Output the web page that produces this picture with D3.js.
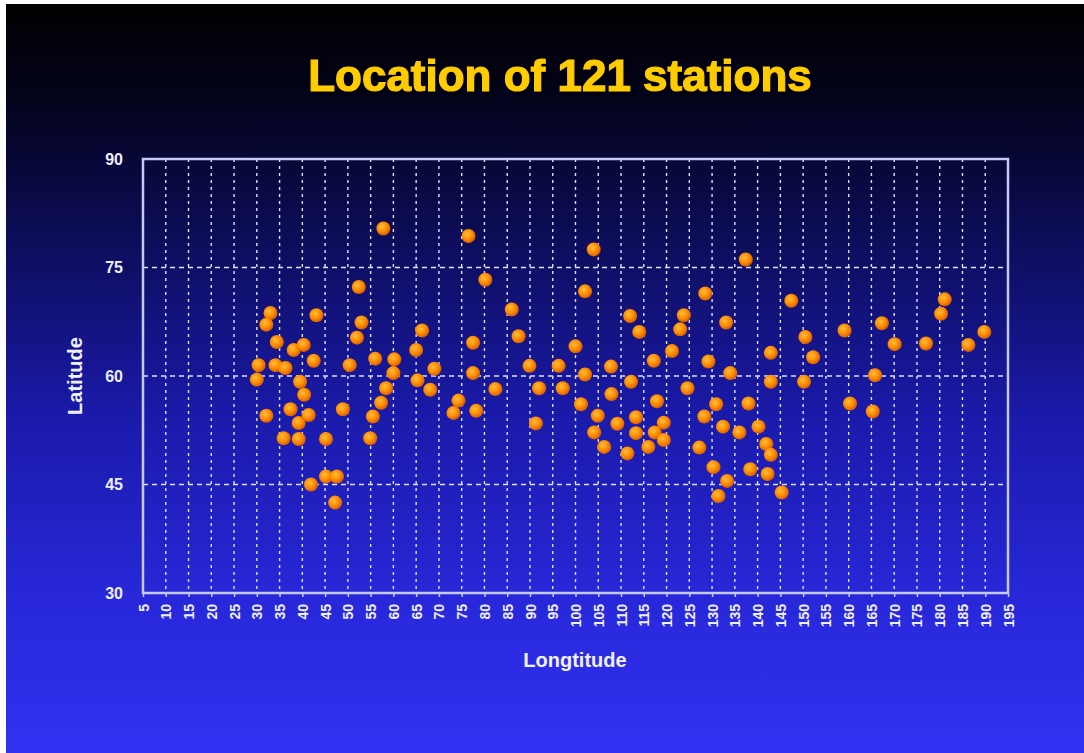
<!DOCTYPE html>
<html>
<head>
<meta charset="utf-8">
<script src="https://cdn.jsdelivr.net/npm/d3@7"></script>
<style>
body { margin: 0; background: #ffffff; }
svg { display: block; font-family: "Liberation Sans", Arial, sans-serif; }
</style>
</head>
<body>
<div id="chart"></div>
<script>
// station positions (longitude, latitude)
const station_lon = [
    57.8, 52.4, 33.0, 32.1, 43.1, 53.0, 52.0, 34.4, 38.1, 40.3,
    42.5, 30.4, 34.1, 36.3, 50.4, 56.0, 60.2, 60.0, 30.0, 39.5,
    40.4, 32.1, 37.4, 41.4, 39.2, 35.9, 39.2, 45.2, 48.9, 55.5,
    54.9, 58.4, 57.3, 41.9, 45.2, 47.6, 47.2,
    76.5, 104.0, 80.2, 102.1, 86.0, 112.0, 123.8, 66.3, 114.0, 123.0,
    87.5, 77.5, 100.0, 65.0, 121.2, 117.2, 69.0, 89.9, 96.3, 107.8,
    77.5, 102.1, 65.3, 68.1, 74.3, 73.2, 78.2, 82.4, 92.0, 97.2,
    91.3, 112.2, 107.9, 101.2, 117.9, 104.9, 109.2, 113.3, 119.4, 104.1,
    113.3, 117.4, 119.4, 106.3, 116.0, 111.4, 124.6,
    137.4, 128.5, 147.4, 181.1, 180.3, 133.1, 167.3, 159.1, 189.8, 150.5,
    170.1, 177.0, 186.3, 142.9, 152.2, 129.2, 134.0, 142.9, 150.2, 165.8,
    160.3, 165.3, 130.9, 138.0, 128.3, 132.4, 136.0, 140.2, 127.2, 141.9,
    142.9, 130.3, 138.4, 142.2, 133.3, 131.4, 145.3
];
const station_lat = [
    80.4, 72.3, 68.7, 67.1, 68.4, 67.4, 65.3, 64.7, 63.6, 64.3,
    62.1, 61.5, 61.5, 61.1, 61.5, 62.4, 62.3, 60.4, 59.5, 59.2,
    57.4, 54.5, 55.4, 54.6, 53.5, 51.4, 51.3, 51.3, 55.4, 54.4,
    51.4, 58.3, 56.3, 45.0, 46.1, 46.1, 42.5,
    79.35, 77.5, 73.3, 71.7, 69.2, 68.3, 68.4, 66.3, 66.1, 66.45,
    65.5, 64.6, 64.1, 63.6, 63.45, 62.1, 61.0, 61.4, 61.4, 61.3,
    60.4, 60.2, 59.4, 58.1, 56.6, 54.9, 55.2, 58.2, 58.3, 58.3,
    53.45, 59.2, 57.5, 56.1, 56.5, 54.5, 53.4, 54.3, 53.55, 52.2,
    52.1, 52.2, 51.15, 50.2, 50.2, 49.3, 58.3,
    76.1, 71.4, 70.4, 70.6, 68.6, 67.4, 67.3, 66.3, 66.1, 65.4,
    64.4, 64.5, 64.3, 63.2, 62.6, 62.0, 60.4, 59.2, 59.2, 60.1,
    56.2, 55.1, 56.1, 56.2, 54.4, 53.0, 52.2, 53.0, 50.1, 50.6,
    49.1, 47.4, 47.1, 46.45, 45.5, 43.4, 43.9
];

const lon_ticks = [5, 10, 15, 20, 25, 30, 35, 40, 45, 50, 55, 60, 65, 70, 75, 80, 85, 90, 95,
    100, 105, 110, 115, 120, 125, 130, 135, 140, 145, 150, 155, 160, 165, 170, 175, 180, 185, 190, 195];
const lat_ticks = [30, 45, 60, 75, 90];

const title_text = 'Location of 121 stations';
const x_label = 'Longtitude';
const y_label = 'Latitude';

const W = 1084, H = 753;
var margin = {top: 159, left: 143, right: 76, bottom: 160},
    width = W - margin.left - margin.right,
    height = H - margin.top - margin.bottom;

const svg = d3.select('#chart')
    .append('svg')
    .attr('width', W)
    .attr('height', H);

const defs = svg.append('defs');

// slide background, dark at the top going to bright blue
const bg = defs.append('linearGradient')
    .attr('id', 'bg-grad')
    .attr('x1', 0).attr('y1', 0).attr('x2', 0).attr('y2', 1);
[[0, '#000000'], [0.12, '#03031a'], [0.3, '#0c0c55'], [0.55, '#1a1aaa'], [0.8, '#2828da'], [1, '#3131f2']]
    .forEach(s => bg.append('stop').attr('offset', s[0]).attr('stop-color', s[1]));

const dot = defs.append('radialGradient')
    .attr('id', 'dot-grad')
    .attr('cx', '40%').attr('cy', '38%').attr('r', '65%');
dot.append('stop').attr('offset', 0).attr('stop-color', '#ffc040');
dot.append('stop').attr('offset', 0.55).attr('stop-color', '#ff8c00');
dot.append('stop').attr('offset', 1).attr('stop-color', '#d45a00');

svg.append('rect')
    .attr('x', 6).attr('y', 4)
    .attr('width', W - 6).attr('height', H - 4)
    .style('fill', 'url(#bg-grad)');

svg.append('text')
    .text(title_text)
    .attr('x', 560)
    .attr('y', 91)
    .attr('text-anchor', 'middle')
    .style('font-size', '44px')
    .style('font-weight', 'bold')
    .style('fill', '#ffcc00')
    .style('stroke', '#ffcc00')
    .style('stroke-width', 1.2)
    .style('filter', 'drop-shadow(2px 2px 1px rgba(0,0,0,0.9))');

const g = svg.append('g')
    .attr('transform', 'translate(' + margin.left + ',' + margin.top + ')');

var x = d3.scaleLinear()
    .domain([5, 195])
    .range([0, width]);
var y = d3.scaleLinear()
    .domain([30, 90])
    .range([height, 0]);

// dashed grid
g.append('g')
    .selectAll('line')
    .data(lon_ticks.slice(1, -1))
    .enter()
    .append('line')
    .attr('x1', d => x(d)).attr('x2', d => x(d))
    .attr('y1', 0).attr('y2', height)
    .attr('stroke', '#e0e0ff')
    .attr('stroke-width', 1.4)
    .attr('stroke-dasharray', '3,4');
g.append('g')
    .selectAll('line')
    .data(lat_ticks.slice(1, -1))
    .enter()
    .append('line')
    .attr('x1', 0).attr('x2', width)
    .attr('y1', d => y(d)).attr('y2', d => y(d))
    .attr('stroke', '#e0e0ff')
    .attr('stroke-width', 1.4)
    .attr('stroke-dasharray', '5,4');

// frame
g.append('rect')
    .attr('x', 0).attr('y', 0)
    .attr('width', width).attr('height', height)
    .attr('fill', 'none')
    .attr('stroke', '#c8c8f4')
    .attr('stroke-width', 2.5);

const x_axis = g.append('g')
    .attr('transform', 'translate(0,' + height + ')')
    .call(d3.axisBottom(x).tickValues(lon_ticks).tickSize(4).tickSizeOuter(0));
x_axis.select('.domain').remove();
x_axis.selectAll('line').attr('stroke', '#c8c8f4').attr('stroke-width', 1.5);
x_axis.selectAll('text')
    .attr('transform', 'rotate(-90)')
    .attr('text-anchor', 'end')
    .attr('x', -11)
    .attr('y', 0)
    .attr('dy', '0.36em')
    .style('fill', '#eeeeff')
    .style('font-size', '14px')
    .style('font-weight', 'bold')
    .style('font-family', '"Liberation Sans", Arial, sans-serif');

const y_axis = g.append('g')
    .call(d3.axisLeft(y).tickValues(lat_ticks).tickSize(0).tickPadding(20));
y_axis.select('.domain').remove();
y_axis.selectAll('text')
    .style('fill', '#eeeeff')
    .style('font-size', '16px')
    .style('font-weight', 'bold')
    .style('font-family', '"Liberation Sans", Arial, sans-serif');

g.selectAll('circle.station')
    .data(station_lon.map((d, i) => [d, station_lat[i]]))
    .enter()
    .append('circle')
    .attr('class', 'station')
    .attr('cx', d => x(d[0]))
    .attr('cy', d => y(d[1]))
    .attr('r', 7)
    .style('fill', 'url(#dot-grad)');

svg.append('text')
    .text(x_label)
    .attr('x', 575)
    .attr('y', 667)
    .attr('text-anchor', 'middle')
    .style('fill', '#f0f0ff')
    .style('font-size', '20px')
    .style('font-weight', 'bold');

svg.append('text')
    .text(y_label)
    .attr('transform', 'translate(82,376) rotate(-90)')
    .attr('text-anchor', 'middle')
    .style('fill', '#f0f0ff')
    .style('font-size', '20px')
    .style('font-weight', 'bold');
</script>
</body>
</html>
